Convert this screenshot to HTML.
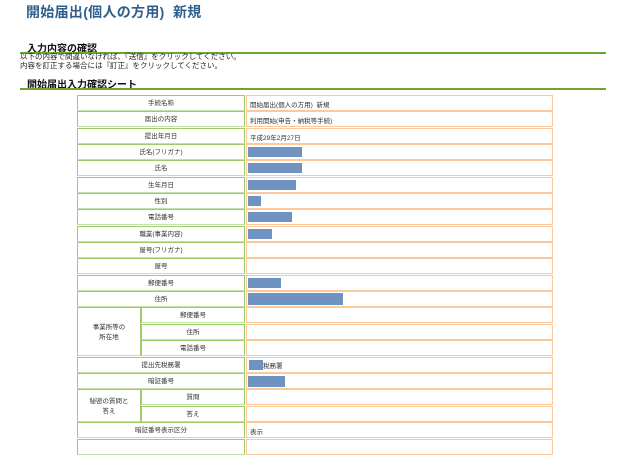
<!DOCTYPE html>
<html><head><meta charset="utf-8"><style>
body{margin:0;width:640px;height:445px;background:#fff;position:relative;overflow:hidden;font-family:"Liberation Sans","Noto Sans CJK JP",sans-serif;}
.a{position:absolute;}
.t{left:26px;top:2px;font-size:14px;color:#2f5f8f;font-weight:bold;letter-spacing:0.3px;white-space:nowrap}
.h{font-size:10px;font-weight:bold;color:#111;white-space:nowrap}
.g{height:2px;background:#6aa632;left:20px;width:586px}
.p{font-size:7.5px;color:#222;left:20px;line-height:9px;white-space:nowrap}
.l{box-sizing:border-box;border:1.5px solid #9dcd6b;border-bottom-color:#c4e2a6;font-size:6.5px;color:#333;display:flex;align-items:center;justify-content:center;text-align:center;line-height:10px;padding-top:2px}
.v{box-sizing:border-box;border:1.5px solid #fbc99c;left:246px;width:307px;font-size:6.5px;color:#333;display:flex;align-items:center;padding-left:1px;white-space:nowrap}
.v.x{padding-left:3px;padding-top:1px}
.b{display:inline-block;height:10px;background:#6f93c1}
</style></head><body>
<div class="a t">開始届出(個人の方用)&nbsp; 新規</div>
<div class="a h" style="left:27px;top:40px">入力内容の確認</div>
<div class="a g" style="top:52px"></div>
<div class="a p" style="top:52px">以下の内容で間違いなければ、『送信』をクリックしてください。<br>内容を訂正する場合には『訂正』をクリックしてください。</div>
<div class="a h" style="left:27px;top:76px">開始届出入力確認シート</div>
<div class="a g" style="top:88px"></div>

<div class="a l" style="left:77px;top:95px;width:168px;height:16px">手続名称</div><div class="a v x" style="top:95px;height:16px">開始届出(個人の方用)&nbsp; 新規</div>
<div class="a l" style="left:77px;top:111px;width:168px;height:16px">届出の内容</div><div class="a v x" style="top:111px;height:16px">利用開始(申告・納税等手続)</div>
<div class="a l" style="left:77px;top:128px;width:168px;height:16px">提出年月日</div><div class="a v x" style="top:128px;height:16px">平成29年2月27日</div>
<div class="a l" style="left:77px;top:144px;width:168px;height:16px">氏名(フリガナ)</div><div class="a v" style="top:144px;height:16px"><span class="b" style="width:54px"></span></div>
<div class="a l" style="left:77px;top:160px;width:168px;height:16px">氏名</div><div class="a v" style="top:160px;height:16px"><span class="b" style="width:54px"></span></div>
<div class="a l" style="left:77px;top:177px;width:168px;height:16px">生年月日</div><div class="a v" style="top:177px;height:16px"><span class="b" style="width:48px"></span></div>
<div class="a l" style="left:77px;top:193px;width:168px;height:16px">性別</div><div class="a v" style="top:193px;height:16px"><span class="b" style="width:13px"></span></div>
<div class="a l" style="left:77px;top:209px;width:168px;height:16px">電話番号</div><div class="a v" style="top:209px;height:16px"><span class="b" style="width:44px"></span></div>
<div class="a l" style="left:77px;top:226px;width:168px;height:16px">職業(事業内容)</div><div class="a v" style="top:226px;height:16px"><span class="b" style="width:24px"></span></div>
<div class="a l" style="left:77px;top:242px;width:168px;height:16px">屋号(フリガナ)</div><div class="a v" style="top:242px;height:16px"></div>
<div class="a l" style="left:77px;top:258px;width:168px;height:16px">屋号</div><div class="a v" style="top:258px;height:16px"></div>
<div class="a l" style="left:77px;top:275px;width:168px;height:16px">郵便番号</div><div class="a v" style="top:275px;height:16px"><span class="b" style="width:33px"></span></div>
<div class="a l" style="left:77px;top:291px;width:168px;height:16px">住所</div><div class="a v" style="top:291px;height:16px"><span class="b" style="width:95px;height:12px"></span></div>

<div class="a l" style="left:77px;top:307px;width:64px;height:49px">事業所等の<br>所在地</div>
<div class="a l" style="left:141px;top:307px;width:104px;height:16px">郵便番号</div><div class="a v" style="top:307px;height:16px"></div>
<div class="a l" style="left:141px;top:324px;width:104px;height:16px">住所</div><div class="a v" style="top:324px;height:16px"></div>
<div class="a l" style="left:141px;top:340px;width:104px;height:16px">電話番号</div><div class="a v" style="top:340px;height:16px"></div>

<div class="a l" style="left:77px;top:357px;width:168px;height:16px">提出先税務署</div><div class="a v" style="top:357px;height:16px"><span class="b" style="width:14px;margin-left:1px"></span>税務署</div>
<div class="a l" style="left:77px;top:373px;width:168px;height:16px">暗証番号</div><div class="a v" style="top:373px;height:16px"><span class="b" style="width:37px;height:11px"></span></div>

<div class="a l" style="left:77px;top:389px;width:64px;height:33px">秘密の質問と<br>答え</div>
<div class="a l" style="left:141px;top:389px;width:104px;height:16px">質問</div><div class="a v" style="top:389px;height:16px"></div>
<div class="a l" style="left:141px;top:406px;width:104px;height:16px">答え</div><div class="a v" style="top:406px;height:16px"></div>

<div class="a l" style="left:77px;top:422px;width:168px;height:16px">暗証番号表示区分</div><div class="a v x" style="top:422px;height:16px">表示</div>
<div class="a l" style="left:77px;top:439px;width:168px;height:16px"></div><div class="a v" style="top:439px;height:16px"></div>
</body></html>
